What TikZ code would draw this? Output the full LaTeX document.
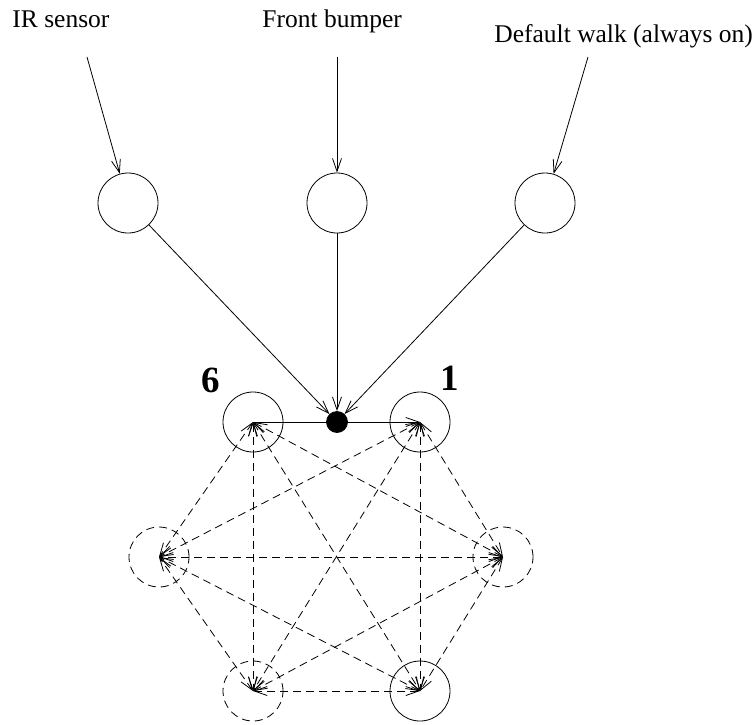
\documentclass[tikz,border=0pt]{standalone}
\usepackage{fontspec}
\setmainfont{Liberation Serif}
\usetikzlibrary{arrows.meta}
\begin{document}
\begin{tikzpicture}[x=1pt,y=-1pt,
  >={Straight Barb[length=13pt,width=9pt]},
  every path/.style={line width=0.8pt},
  unit/.style={circle,draw,minimum size=60pt,inner sep=0pt},
  dunit/.style={unit,dash pattern=on 8pt off 5pt},
  lbl/.style={inner sep=0pt,anchor=base west,font=\fontsize{25.5}{30}\selectfont},
  num/.style={inner sep=0pt,anchor=base,font=\fontsize{37}{42}\selectfont\bfseries},
  arr/.style={->},
  darr/.style={<->,dash pattern=on 8pt off 5pt}]
\useasboundingbox (0,0) rectangle (752,724);
% labels
\node[lbl] (lir) at (12,27) {IR sensor};
\node[lbl] (lfb) at (262,27) {Front bumper};
\node[lbl] (ldw) at (494,42) {Default walk (always on)};
\coordinate (s1) at (87,57);
\coordinate (s2) at (337,57);
\coordinate (s3) at (588,57);
% top units
\node[unit] (t1) at (128,203) {};
\node[unit] (t2) at (337,203) {};
\node[unit] (t3) at (545,203) {};
% hexagon units
\node[unit] (n6) at (253,422) {};
\node[unit] (n1) at (420,422) {};
\node[dunit] (nR) at (503,557) {};
\node[unit] (nBR) at (420,691) {};
\node[dunit] (nBL) at (253,691) {};
\node[dunit] (nL) at (159,557) {};
\node[num] (l6) at (210.5,392) {6};
\node[num] (l1) at (450,390) {1};
% inputs
\draw[arr] (s1) -- (t1);
\draw[arr] (s2) -- (t2);
\draw[arr] (s3) -- (t3);
% solid line 6 -> 1
\draw[arr] (n6.center) -- (n1.center);
% dot
\node[circle,fill=black,draw,minimum size=21pt,inner sep=0pt] (dot) at (337,422) {};
\draw[arr] (t1) -- (dot);
\draw[arr] (t2) -- (dot);
\draw[arr] (t3) -- (dot);
% dashed complete graph
\foreach \a/\b in {n6/nR,n6/nBR,n6/nBL,n6/nL,n1/nR,n1/nBR,n1/nBL,n1/nL,nR/nBR,nR/nBL,nR/nL,nBR/nBL,nBR/nL,nBL/nL}{
  \draw[darr] (\a.center) -- (\b.center);
}
\end{tikzpicture}
\end{document}
